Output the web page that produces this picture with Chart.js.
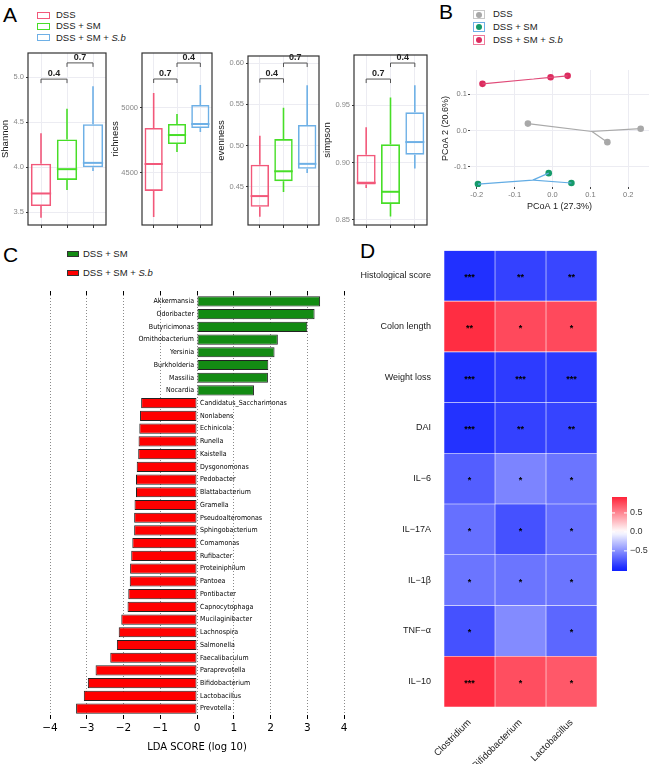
<!DOCTYPE html>
<html>
<head>
<meta charset="utf-8">
<script src="https://cdn.jsdelivr.net/npm/chart.js@4.4.0/dist/chart.umd.min.js"></script>
<style>
body { margin: 0; background: #fff; }
#lienzo { position: relative; width: 653px; height: 764px; overflow: hidden; background: #fff; font-family: 'Liberation Sans', Arial, sans-serif; }
canvas { position: absolute; }
.letra { position: absolute; font-size: 21px; line-height: 1; color: #000; }
.txt { position: absolute; font-size: 9.5px; line-height: 10px; color: #222; white-space: nowrap; }
.clave { position: absolute; box-sizing: border-box; }
.punto { position: absolute; width: 6px; height: 6px; border-radius: 3px; }
</style>
</head>
<body>
<div id="lienzo">
  <div class="letra" style="left:3px;top:4px">A</div>
  <div class="letra" style="left:439px;top:1px">B</div>
  <div class="letra" style="left:3px;top:244px">C</div>
  <div class="letra" style="left:360px;top:240px">D</div>

  <!-- leyenda A -->
  <div class="clave" style="left:37px;top:12px;width:13px;height:7px;border:1.5px solid #f2587a"></div>
  <div class="txt" style="left:56px;top:10px">DSS</div>
  <div class="clave" style="left:37px;top:23px;width:13px;height:7px;border:1.5px solid #47de27"></div>
  <div class="txt" style="left:56px;top:21px">DSS + SM</div>
  <div class="clave" style="left:37px;top:34px;width:13px;height:7px;border:1.5px solid #6eb0e6"></div>
  <div class="txt" style="left:56px;top:33px">DSS + SM + <i>S.b</i></div>

  <!-- leyenda B -->
  <div class="clave" style="left:473px;top:10px;width:12px;height:9px;border:1px solid #c8c8c8"></div>
  <div class="punto" style="left:476px;top:11.5px;background:#a8a8a8"></div>
  <div class="txt" style="left:493px;top:9px">DSS</div>
  <div class="clave" style="left:473px;top:22px;width:12px;height:10px;border:1px solid #6eb0e6"></div>
  <div class="punto" style="left:476px;top:24px;background:#159a6a"></div>
  <div class="txt" style="left:493px;top:22px">DSS + SM</div>
  <div class="clave" style="left:473px;top:35px;width:12px;height:10px;border:1px solid #ef7b9c"></div>
  <div class="punto" style="left:476px;top:37px;background:#dc2b5e"></div>
  <div class="txt" style="left:493px;top:35px">DSS + SM + <i>S.b</i></div>

  <!-- leyenda C -->
  <div class="clave" style="left:67px;top:251px;width:12px;height:6px;background:#138b13;border:1px solid #333"></div>
  <div class="txt" style="left:83px;top:249px">DSS + SM</div>
  <div class="clave" style="left:67px;top:270px;width:12px;height:6px;background:#ff0000;border:1px solid #333"></div>
  <div class="txt" style="left:83px;top:268px">DSS + SM + <i>S.b</i></div>

  <canvas id="shannon" width="110" height="190" style="left:0px;top:45px"></canvas>
  <canvas id="richness" width="106" height="190" style="left:110px;top:45px"></canvas>
  <canvas id="evenness" width="106" height="190" style="left:216px;top:45px"></canvas>
  <canvas id="simpson" width="108" height="190" style="left:322px;top:45px"></canvas>
  <canvas id="pcoa" width="213" height="150" style="left:440px;top:62px"></canvas>
  <canvas id="lefse" width="360" height="480" style="left:0px;top:280px"></canvas>
  <canvas id="calor" width="293" height="524" style="left:360px;top:240px"></canvas>
</div>

<script>
const fuente = "'Liberation Sans', Arial, sans-serif";

// ---- Panel A: diversidad alfa ----
const grupos = ['DSS', 'DSS + SM', 'DSS + SM + S.b'];
const coloresCaja = ['#f2587a', '#47de27', '#6eb0e6'];

const shannonMin = [3.44, 3.75, 3.96];
const shannonQ1 = [3.57, 3.86, 4.00];
const shannonMed = [3.71, 3.98, 4.05];
const shannonQ3 = [4.04, 4.31, 4.48];
const shannonMax = [4.38, 4.65, 4.90];
const shannonP = ['0.4', '0.7'];
const shannonPY = [4.98, 5.16];
const shannonTicks = [3.5, 4.0, 4.5, 5.0];

const richMin = [4162, 4662, 4815];
const richQ1 = [4362, 4723, 4846];
const richMed = [4569, 4792, 4877];
const richQ3 = [4846, 4877, 5023];
const richMax = [5115, 4954, 5177];
const richP = ['0.7', '0.4'];
const richPY = [5223, 5346];
const richTicks = [4500, 5000];

const evenMin = [0.414, 0.444, 0.467];
const evenQ1 = [0.426, 0.457, 0.472];
const evenMed = [0.439, 0.469, 0.478];
const evenQ3 = [0.477, 0.508, 0.525];
const evenMax = [0.512, 0.546, 0.573];
const evenP = ['0.4', '0.7'];
const evenPY = [0.581, 0.600];
const evenTicks = [0.45, 0.50, 0.55, 0.60];

const simpMin = [0.878, 0.853, 0.895];
const simpQ1 = [0.881, 0.864, 0.907];
const simpMed = [0.8825, 0.8746, 0.918];
const simpQ3 = [0.907, 0.916, 0.944];
const simpMax = [0.931, 0.957, 0.9675];
const simpP = ['0.7', '0.4'];
const simpPY = [0.973, 0.987];
const simpTicks = [0.85, 0.90, 0.95];

// ---- Panel B: PCoA ----
const dssX = [-0.065, 0.145, 0.233];
const dssY = [0.019, -0.032, 0.005];
const smX = [-0.197, -0.01, 0.05];
const smY = [-0.147, -0.117, -0.144];
const sbX = [-0.185, -0.005, 0.04];
const sbY = [0.128, 0.146, 0.15];

// ---- Panel C: LEfSe ----
const taxaSM = ['Akkermansia', 'Odoribacter', 'Butyricimonas', 'Ornithobacterium', 'Yersinia', 'Burkholderia', 'Massilia', 'Nocardia'];
const ldaSM = [3.35, 3.2, 3.0, 2.2, 2.11, 1.94, 1.93, 1.55];
const taxaSb = ['Candidatus_Saccharimonas', 'Nonlabens', 'Echinicola', 'Runella', 'Kaistella', 'Dysgonomonas', 'Pedobacter', 'Blattabacterium', 'Gramella', 'Pseudoalteromonas', 'Sphingobacterium', 'Comamonas', 'Rufibacter', 'Proteiniphilum', 'Pantoea', 'Pontibacter', 'Capnocytophaga', 'Mucilaginibacter', 'Lachnospira', 'Salmonella', 'Faecalibaculum', 'Paraprevotella', 'Bifidobacterium', 'Lactobacillus', 'Prevotella'];
const ldaSb = [-1.52, -1.55, -1.57, -1.59, -1.6, -1.64, -1.66, -1.66, -1.70, -1.71, -1.71, -1.76, -1.79, -1.82, -1.83, -1.87, -1.89, -2.06, -2.13, -2.18, -2.36, -2.76, -2.97, -3.08, -3.29];

// ---- Panel D: correlaciones ----
const hmFilas = ['Histological score', 'Colon length', 'Weight loss', 'DAI', 'IL\u22126', 'IL\u221217A', 'IL\u22121\u03b2', 'TNF\u2212\u03b1', 'IL\u221210'];
const hmCols = ['Clostridium', 'Bifidobacterium', 'Lactobacillus'];
const corClostridium = [-0.93, 0.88, -0.93, -0.92, -0.72, -0.64, -0.62, -0.78, 0.88];
const corBifido = [-0.85, 0.76, -0.88, -0.85, -0.55, -0.78, -0.62, -0.52, 0.74];
const corLacto = [-0.83, 0.76, -0.88, -0.84, -0.62, -0.64, -0.62, -0.68, 0.70];
const sigClostridium = ['***', '**', '***', '***', '*', '*', '*', '*', '***'];
const sigBifido = ['**', '*', '***', '**', '*', '*', '*', '', '*'];
const sigLacto = ['**', '*', '***', '**', '*', '*', '*', '*', '*'];

const sinAnim = { responsive: false, animation: false };

function cajas(id, nombre, mins, q1s, meds, q3s, maxs, yMin, yMax, marcas, dec, pTxt, pY, anchoEje, padTop, padRight) {
    const extra = {
        id: 'caja',
        afterDatasetsDraw(chart) {
            const c = chart.ctx, ex = chart.scales.x, ey = chart.scales.y;
            const barras = chart.getDatasetMeta(0).data;
            c.save();
            barras.forEach((b, i) => {
                c.strokeStyle = coloresCaja[i];
                c.lineWidth = 1.6;
                c.beginPath();
                c.moveTo(b.x, ey.getPixelForValue(q3s[i]));
                c.lineTo(b.x, ey.getPixelForValue(maxs[i]));
                c.moveTo(b.x, ey.getPixelForValue(q1s[i]));
                c.lineTo(b.x, ey.getPixelForValue(mins[i]));
                c.stroke();
                c.lineWidth = 2;
                c.beginPath();
                c.moveTo(b.x - b.width / 2, ey.getPixelForValue(meds[i]));
                c.lineTo(b.x + b.width / 2, ey.getPixelForValue(meds[i]));
                c.stroke();
            });
            c.strokeStyle = '#555';
            c.lineWidth = 1;
            c.fillStyle = '#222';
            c.font = 'bold 9px ' + fuente;
            c.textAlign = 'center';
            c.textBaseline = 'bottom';
            pTxt.forEach((t, k) => {
                const x1 = ex.getPixelForValue(k), x2 = ex.getPixelForValue(k + 1), yy = ey.getPixelForValue(pY[k]);
                c.beginPath();
                c.moveTo(x1, yy + 4); c.lineTo(x1, yy); c.lineTo(x2, yy); c.lineTo(x2, yy + 4);
                c.stroke();
                c.fillText(t, (x1 + x2) / 2, yy - 1);
            });
            c.restore();
        },
        afterDraw(chart) {
            const a = chart.chartArea, c = chart.ctx;
            c.save();
            c.strokeStyle = '#333';
            c.lineWidth = 1.2;
            c.strokeRect(a.left, a.top, a.right - a.left, a.bottom - a.top);
            c.restore();
        }
    };
    new Chart(document.getElementById(id), {
        type: 'bar',
        data: {
            labels: grupos,
            datasets: [{
                data: q1s.map((v, i) => [v, q3s[i]]),
                backgroundColor: 'rgba(255,255,255,0)',
                borderColor: coloresCaja,
                borderWidth: 1.6,
                borderSkipped: false,
                barPercentage: 0.78,
                categoryPercentage: 1
            }]
        },
        options: {
            ...sinAnim,
            layout: { padding: { top: padTop, right: padRight, left: 0, bottom: 0 } },
            plugins: { legend: { display: false }, tooltip: { enabled: false } },
            scales: {
                x: {
                    grid: { offset: false, color: '#ececf2', tickColor: '#333', tickLength: 3 },
                    ticks: { callback: () => '', padding: 0 },
                    border: { display: false },
                    afterFit: s => { s.height = 10; }
                },
                y: {
                    min: yMin, max: yMax,
                    afterBuildTicks: s => { s.ticks = marcas.map(v => ({ value: v })); },
                    ticks: { callback: v => v.toFixed(dec), font: { size: 7.5, family: fuente }, color: '#888', padding: 2 },
                    grid: { color: '#ececf2', tickColor: '#333', tickLength: 2 },
                    border: { display: false },
                    title: { display: true, text: nombre, font: { size: 9.5, family: fuente }, color: '#111', padding: { top: 0, bottom: 2 } },
                    afterFit: s => { s.width = anchoEje; }
                }
            }
        },
        plugins: [extra]
    });
}

cajas('shannon', 'Shannon', shannonMin, shannonQ1, shannonMed, shannonQ3, shannonMax, 3.36, 5.27, shannonTicks, 1, shannonP, shannonPY, 28, 8, 4);
cajas('richness', 'richness', richMin, richQ1, richMed, richQ3, richMax, 4100, 5423, richTicks, 0, richP, richPY, 32, 8, 4);
cajas('evenness', 'evenness', evenMin, evenQ1, evenMed, evenQ3, evenMax, 0.404, 0.6085, evenTicks, 2, evenP, evenPY, 32, 11, 3);
cajas('simpson', 'simpson', simpMin, simpQ1, simpMed, simpQ3, simpMax, 0.8456, 0.994, simpTicks, 2, simpP, simpPY, 32, 10, 3);

// ---- PCoA ----
function puntos(xs, ys) {
    return xs.map((v, i) => ({ x: v, y: ys[i] }));
}
function radios(xs, ys) {
    const cx = xs.reduce((s, v) => s + v, 0) / xs.length;
    const cy = ys.reduce((s, v) => s + v, 0) / ys.length;
    const salida = [];
    xs.forEach((v, i) => {
        if (i > 0) salida.push({ x: cx, y: cy });
        salida.push({ x: v, y: ys[i] });
    });
    return salida;
}
const ejeTick = { font: { size: 7.5, family: fuente }, color: '#777', stepSize: 0.1, includeBounds: false, autoSkip: false, callback: v => v.toFixed(1) };
new Chart(document.getElementById('pcoa'), {
    type: 'scatter',
    data: {
        datasets: [
            { type: 'line', data: radios(dssX, dssY), borderColor: '#a9a9a9', borderWidth: 1.2, pointRadius: 0 },
            { type: 'line', data: radios(smX, smY), borderColor: '#62ace4', borderWidth: 1.2, pointRadius: 0 },
            { type: 'line', data: radios(sbX, sbY), borderColor: '#e04a78', borderWidth: 1.2, pointRadius: 0 },
            { data: puntos(dssX, dssY), backgroundColor: '#a8a8a8', borderWidth: 0, pointRadius: 3.3 },
            { data: puntos(smX, smY), backgroundColor: '#159a6a', borderWidth: 0, pointRadius: 3.3 },
            { data: puntos(sbX, sbY), backgroundColor: '#dc2b5e', borderWidth: 0, pointRadius: 3.3 }
        ]
    },
    options: {
        ...sinAnim,
        layout: { padding: { top: 8, right: 3, left: 0, bottom: 0 } },
        plugins: { legend: { display: false }, tooltip: { enabled: false } },
        scales: {
            x: {
                type: 'linear', min: -0.218, max: 0.255,
                ticks: { ...ejeTick, padding: 1 },
                grid: { color: '#ececf2', tickColor: '#444', tickLength: 2 },
                border: { display: false },
                title: { display: true, text: 'PCoA 1 (27.3%)', font: { size: 9, family: fuente }, color: '#222', padding: { top: 1, bottom: 0 } },
                afterFit: s => { s.height = 25; }
            },
            y: {
                min: -0.155, max: 0.166,
                ticks: { ...ejeTick, padding: 1 },
                grid: { color: '#ececf2', tickColor: '#444', tickLength: 2 },
                border: { display: false },
                title: { display: true, text: 'PCoA 2 (20.6%)', font: { size: 9, family: fuente }, color: '#222', padding: { top: 0, bottom: 1 } },
                afterFit: s => { s.width = 30; }
            }
        }
    }
});

// ---- LEfSe ----
const taxa = taxaSM.concat(taxaSb);
const lda = ldaSM.concat(ldaSb);
const coloresLda = ldaSM.map(() => '#138b13').concat(ldaSb.map(() => '#ff0000'));
const menos = v => (v < 0 ? '\u2212' + Math.abs(v) : String(v));
new Chart(document.getElementById('lefse'), {
    type: 'bar',
    data: {
        labels: taxa,
        datasets: [{
            data: lda,
            backgroundColor: coloresLda,
            borderColor: '#222',
            borderWidth: 1,
            borderSkipped: false,
            barPercentage: 0.8,
            categoryPercentage: 1
        }]
    },
    options: {
        ...sinAnim,
        indexAxis: 'y',
        layout: { padding: { top: 10, right: 16, left: 50, bottom: 7 } },
        plugins: { legend: { display: false }, tooltip: { enabled: false } },
        scales: {
            x: {
                min: -4, max: 4, z: 1,
                ticks: { stepSize: 1, callback: menos, font: { size: 10.5, family: 'DejaVu Sans' }, color: '#000', padding: 3 },
                grid: { color: '#8a8a8a', tickColor: '#000', tickLength: 4, tickBorderDash: [1, 0] },
                border: { display: false, dash: [1, 2] },
                title: { display: true, text: 'LDA SCORE (log 10)', font: { size: 10, family: 'DejaVu Sans' }, color: '#000', padding: { top: 4, bottom: 0 } },
                afterFit: s => { s.height = 38; }
            },
            x2: {
                type: 'linear', position: 'top', min: -4, max: 4,
                ticks: { stepSize: 1, display: false },
                grid: { drawOnChartArea: false, tickColor: '#000', tickLength: 4 },
                border: { display: false },
                afterFit: s => { s.height = 5; }
            },
            y: { display: false }
        }
    },
    plugins: [{
        id: 'nombres',
        afterDraw(chart) {
            const c = chart.ctx, ex = chart.scales.x, ey = chart.scales.y;
            const x0 = ex.getPixelForValue(0);
            c.save();
            c.font = "7px 'DejaVu Sans Condensed', 'DejaVu Sans'";
            c.fillStyle = '#000';
            c.textBaseline = 'middle';
            taxa.forEach((t, i) => {
                const y = ey.getPixelForValue(i);
                if (lda[i] > 0) {
                    c.textAlign = 'right';
                    c.fillText(t, x0 - 3, y);
                } else {
                    c.textAlign = 'left';
                    c.fillText(t, x0 + 3, y);
                }
            });
            c.restore();
        }
    }]
});

// ---- Mapa de calor ----
function colorCor(v) {
    const a = Math.min(1, Math.abs(v));
    const fin = v < 0 ? [16, 32, 255] : [255, 16, 40];
    const c = fin.map(f => Math.round(255 + (f - 255) * a));
    return 'rgb(' + c.join(',') + ')';
}
const columnasCor = [corClostridium, corBifido, corLacto];
const columnasSig = [sigClostridium, sigBifido, sigLacto];
new Chart(document.getElementById('calor'), {
    type: 'bar',
    data: {
        labels: hmFilas,
        datasets: columnasCor.map((col, j) => ({
            data: col.map(() => [j, j + 1]),
            backgroundColor: col.map(colorCor),
            borderColor: 'rgba(255,255,255,0.25)',
            borderWidth: 0.6,
            borderSkipped: false,
            grouped: false,
            barPercentage: 1,
            categoryPercentage: 1
        }))
    },
    options: {
        ...sinAnim,
        indexAxis: 'y',
        layout: { padding: { top: 6, right: 56, left: 0, bottom: 0 } },
        plugins: { legend: { display: false }, tooltip: { enabled: false } },
        scales: {
            x: {
                type: 'linear', min: 0, max: 3,
                afterBuildTicks: s => { s.ticks = hmCols.map((_, j) => ({ value: j + 0.5 })); },
                ticks: { callback: v => hmCols[Math.floor(v)], minRotation: 45, maxRotation: 45, font: { size: 9.5, family: fuente }, color: '#222', padding: 2 },
                grid: { display: false },
                border: { display: false },
                afterFit: s => { s.height = 57; }
            },
            y: {
                ticks: { font: { size: 9, family: fuente }, color: '#1a1a1a', padding: 5 },
                grid: { display: false },
                border: { display: false },
                afterFit: s => { s.width = 84; }
            }
        }
    },
    plugins: [{
        id: 'estrellas',
        afterDraw(chart) {
            const c = chart.ctx, ex = chart.scales.x, ey = chart.scales.y;
            c.save();
            c.fillStyle = '#000';
            c.font = 'bold 9px ' + fuente;
            c.textAlign = 'center';
            c.textBaseline = 'middle';
            columnasSig.forEach((col, j) => {
                col.forEach((s, i) => {
                    if (s) c.fillText(s, ex.getPixelForValue(j + 0.5), ey.getPixelForValue(i) + 2);
                });
            });
            // barra de color
            const bx = 252, bt = 257, bb = 331, arriba = 0.92, abajo = -1.03;
            const pos = v => bt + (arriba - v) / (arriba - abajo) * (bb - bt);
            const g = c.createLinearGradient(0, bt, 0, bb);
            for (let k = 0; k <= 20; k++) {
                const v = arriba - (arriba - abajo) * k / 20;
                g.addColorStop(k / 20, colorCor(v));
            }
            c.fillStyle = g;
            c.fillRect(bx, bt, 15, bb - bt);
            c.fillStyle = '#333';
            c.font = '9px ' + fuente;
            c.textAlign = 'left';
            c.strokeStyle = '#fff';
            c.lineWidth = 1;
            [0.5, 0, -0.5].forEach(v => {
                const y = pos(v);
                c.beginPath();
                c.moveTo(bx, y); c.lineTo(bx + 3, y);
                c.moveTo(bx + 12, y); c.lineTo(bx + 15, y);
                c.stroke();
                c.fillText(v < 0 ? '\u2212' + Math.abs(v).toFixed(1) : v.toFixed(1), bx + 18, y);
            });
            c.restore();
        }
    }]
});
</script>
</body>
</html>
